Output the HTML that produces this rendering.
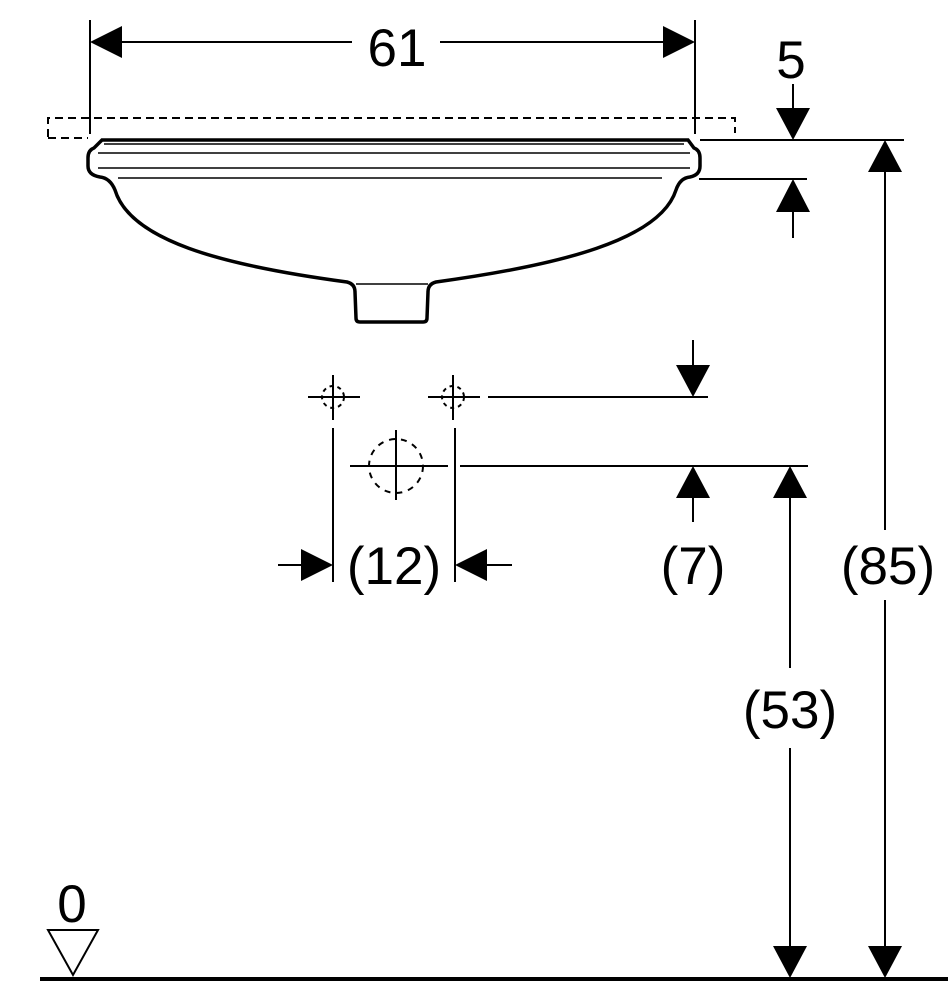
<!DOCTYPE html>
<html><head><style>html,body{margin:0;padding:0;background:#fff}svg{display:block}text{font-family:"Liberation Sans",sans-serif;font-size:53px;fill:#000}</style></head>
<body>
<svg width="948" height="1000" viewBox="0 0 948 1000" xmlns="http://www.w3.org/2000/svg">
<g stroke="#000" stroke-width="2" fill="none">
<line x1="90" y1="20" x2="90" y2="134"/>
<line x1="695" y1="20" x2="695" y2="134"/>
<line x1="120" y1="42" x2="352" y2="42"/>
<line x1="440" y1="42" x2="665" y2="42"/>
<path d="M48 137 V118 H735 V133" stroke-dasharray="8,5"/>
<line x1="48" y1="138" x2="88" y2="138" stroke-dasharray="8,5"/>
<path d="M102 140 H688 L694 148 Q700 150 700 158 V166 Q700 175 690 177 Q680 178 676 190 C660 240 560 265 436 282 Q428 284 428 292 L427 318 Q427 322 423 322 H360 Q356 322 356 318 L355 292 Q355 284 347 282 C220 265 130 240 115 190 Q110 178 100 177 Q88 175 88 166 V158 Q88 150 94 148 Z" stroke-width="3.5"/>
<line x1="104" y1="144" x2="684" y2="144" stroke-width="1.5"/>
<line x1="98" y1="153" x2="690" y2="153" stroke-width="1.5"/>
<line x1="98" y1="168" x2="690" y2="168" stroke-width="1.5"/>
<line x1="118" y1="178" x2="662" y2="178" stroke-width="1.5"/>
<line x1="356" y1="284" x2="428" y2="284" stroke-width="1.5"/>
<line x1="700" y1="140" x2="904" y2="140"/>
<line x1="699" y1="179" x2="807" y2="179"/>
<line x1="793" y1="84" x2="793" y2="110"/>
<line x1="793" y1="210" x2="793" y2="238"/>
<line x1="488" y1="397" x2="708" y2="397"/>
<line x1="460" y1="466" x2="808" y2="466"/>
<line x1="693" y1="340" x2="693" y2="370"/>
<line x1="693" y1="495" x2="693" y2="522"/>
<line x1="885" y1="170" x2="885" y2="530"/>
<line x1="885" y1="600" x2="885" y2="948"/>
<line x1="790" y1="496" x2="790" y2="668"/>
<line x1="790" y1="748" x2="790" y2="948"/>
<line x1="308" y1="397" x2="360" y2="397"/>
<line x1="333" y1="375" x2="333" y2="420"/>
<circle cx="333" cy="397" r="11" stroke-dasharray="4,4"/>
<line x1="428" y1="397" x2="480" y2="397"/>
<line x1="453" y1="375" x2="453" y2="420"/>
<circle cx="453" cy="397" r="11" stroke-dasharray="4,4"/>
<line x1="350" y1="466" x2="448" y2="466"/>
<line x1="396" y1="430" x2="396" y2="500"/>
<circle cx="396" cy="466" r="27" stroke-dasharray="6,6"/>
<line x1="333" y1="428" x2="333" y2="582"/>
<line x1="455" y1="428" x2="455" y2="582"/>
<line x1="278" y1="565" x2="305" y2="565"/>
<line x1="485" y1="565" x2="512" y2="565"/>
<line x1="40" y1="979" x2="948" y2="979" stroke-width="4"/>
<path d="M48 930 H98 L73 975 Z"/>
</g>
<g fill="#000">
<path d="M90 42 L122 26 V58 Z"/>
<path d="M695 42 L663 26 V58 Z"/>
<path d="M793 140 L776 108 H810 Z"/>
<path d="M793 179 L776 212 H810 Z"/>
<path d="M693 397 L676 365 H710 Z"/>
<path d="M693 466 L676 498 H710 Z"/>
<path d="M885 140 L868 172 H902 Z"/>
<path d="M885 978 L868 946 H902 Z"/>
<path d="M790 466 L773 498 H807 Z"/>
<path d="M790 978 L773 946 H807 Z"/>
<path d="M333 565 L301 549 V581 Z"/>
<path d="M455 565 L487 549 V581 Z"/>
</g>
<text x="397" y="66" text-anchor="middle">61</text>
<text x="791" y="78" text-anchor="middle">5</text>
<text x="394" y="584" text-anchor="middle">(12)</text>
<text x="693" y="584" text-anchor="middle">(7)</text>
<text x="888" y="584" text-anchor="middle">(85)</text>
<text x="790" y="728" text-anchor="middle">(53)</text>
<text x="72" y="922" text-anchor="middle">0</text>
</svg>
</body></html>
